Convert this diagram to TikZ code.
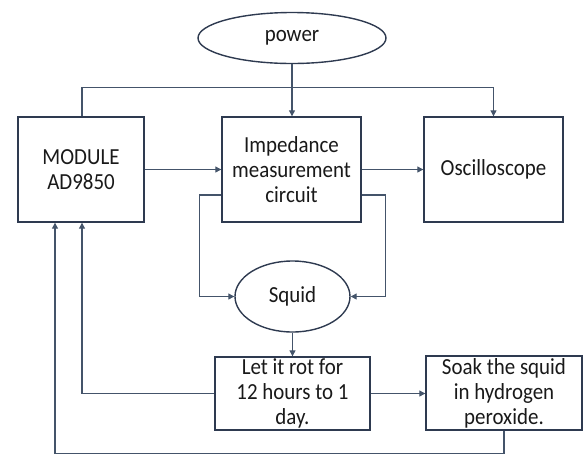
\documentclass[tikz,border=0pt]{standalone}
\usepackage{fontspec}
\setmainfont{Carlito}[FakeStretch=0.91]
\usetikzlibrary{arrows.meta,shapes.geometric}
\definecolor{linec}{HTML}{44546A}
\definecolor{boxc}{HTML}{2E3A50}
\tikzset{
  box/.style={draw=boxc,line width=1.4pt,rectangle,inner sep=0pt,align=center,text=black!90,font=\fontsize{23}{25}\selectfont},
  oval/.style={draw=boxc,line width=1.4pt,ellipse,inner sep=0pt,align=center,text=black!90,font=\fontsize{23}{25}\selectfont},
  arr/.style={draw=linec,line width=1.2pt,-{Triangle[length=6pt,width=6pt]}},
  ln/.style={draw=linec,line width=1.2pt}
}
\begin{document}
\begin{tikzpicture}[x=1pt,y=-1pt]
\useasboundingbox (0,0) rectangle (587,459);
\node[oval,minimum width=188pt,minimum height=51pt] (power) at (292,38) {power};
\node[box,minimum width=126pt,minimum height=105pt] (module) at (81,169.5) {MODULE\\AD9850};
\node[box,minimum width=139pt,minimum height=105pt] (imp) at (291.5,169.5) {Impedance\\measurement\\circuit};
\node[box,minimum width=139pt,minimum height=105pt] (osc) at (493.5,169.5) {Oscilloscope};
\node[oval,minimum width=115pt,minimum height=71pt] (squid) at (292.5,296.5) {Squid};
\node[box,minimum width=155pt,minimum height=73pt] (rot) at (292.5,393.5) {Let it rot for\\12 hours to 1\\day.};
\node[box,minimum width=156pt,minimum height=74pt] (soak) at (504,393) {Soak the squid\\in hydrogen\\peroxide.};

\draw[arr] (power.south) -- (power.south |- imp.north);
\draw[arr] ([xshift=1pt]module.north) -- ++(0,-29) -| (osc.north);
\draw[arr] (module.east) -- (imp.west);
\draw[arr] (imp.east) -- (osc.west);
\draw[arr] ([yshift=-25.5pt]imp.west) -- ++(-22,0) |- (squid.west);
\draw[arr] ([yshift=-25.5pt]imp.east) -- ++(24,0) |- (squid.east);
\draw[arr] (squid.south) -- (rot.north);
\draw[arr] (rot.east) -- (rot.east -| soak.west);
\draw[arr] (rot.west) -| ([xshift=1pt]module.south);
\draw[arr] (soak.south) -- ++(0,23) -| ([xshift=-26pt]module.south);
\end{tikzpicture}
\end{document}
